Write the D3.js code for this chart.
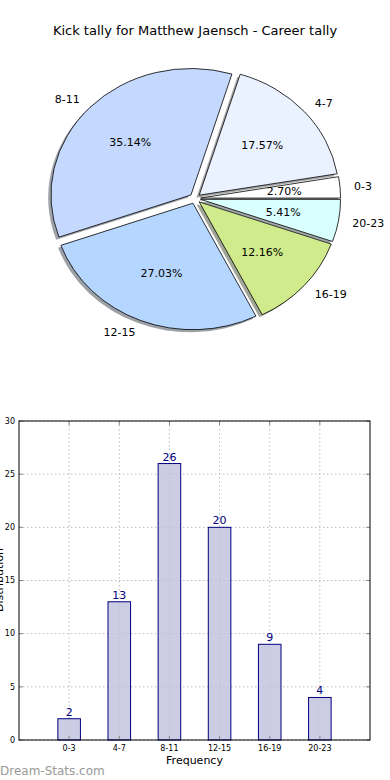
<!DOCTYPE html>
<html>
<head>
<meta charset="utf-8">
<script src="https://cdn.jsdelivr.net/npm/d3@7"></script>
<style>
  body { margin: 0; background: #fff; }
  svg { display: block; font-family: "DejaVu Sans", sans-serif; }
</style>
</head>
<body>
<div id="chart"></div>
<script>
// data
const categories = ["0-3", "4-7", "8-11", "12-15", "16-19", "20-23"];
const counts = [2, 13, 26, 20, 9, 4];
const sliceColors = ["#ffffff", "#eaf1ff", "#c5d9ff", "#b5d6ff", "#d0eb8b", "#d9ffff"];
const yTicks = [0, 5, 10, 15, 20, 25, 30];

const W = 390, H = 780;
const svg = d3.select("#chart").append("svg")
    .attr("width", W)
    .attr("height", H);

svg.append("text")
    .attr("x", 195)
    .attr("y", 35)
    .attr("text-anchor", "middle")
    .style("font-size", "13px")
    .attr("fill", "#000")
    .text("Kick tally for Matthew Jaensch - Career tally");

// ---- pie (matplotlib style: starts at 3 o'clock, counterclockwise, exploded)
const cx = 195, cy = 198.5, r = 140, sy = 126.5 / 140;
const explode = 0.04;

const pie = d3.pie().sort(null)
    .startAngle(Math.PI / 2)
    .endAngle(Math.PI / 2 - 2 * Math.PI);
const arcs = pie(counts);
const total = d3.sum(counts);
const arc = d3.arc().innerRadius(0).outerRadius(r);

const pieG = svg.append("g");

arcs.forEach((d, i) => {
    const mid = (d.startAngle + d.endAngle) / 2;
    const ux = Math.sin(mid), uy = -Math.cos(mid);
    const ox = explode * r * ux, oy = explode * r * uy;

    // shadow
    pieG.append("path")
        .attr("d", arc(d))
        .attr("transform", `translate(${cx - 0.02 * r},${cy + 0.02 * r * sy}) scale(1,${sy}) translate(${ox},${oy})`)
        .attr("fill", d3.color(sliceColors[i]).darker(3.2))
        .attr("opacity", 0.5);

    pieG.append("path")
        .attr("d", arc(d))
        .attr("transform", `translate(${cx},${cy}) scale(1,${sy}) translate(${ox},${oy})`)
        .attr("fill", sliceColors[i])
        .attr("stroke", "#000")
        .attr("stroke-width", 0.8)
        .attr("vector-effect", "non-scaling-stroke");
});

arcs.forEach((d, i) => {
    const mid = (d.startAngle + d.endAngle) / 2;
    const ux = Math.sin(mid), uy = -Math.cos(mid);
    const ox = cx + explode * r * ux, oy = cy + explode * r * uy * sy;
    const lx = ox + 1.1 * r * ux, ly = oy + 1.1 * r * uy * sy;
    svg.append("text")
        .attr("x", lx)
        .attr("y", ly)
        .attr("dy", "0.35em")
        .attr("text-anchor", ux > 0 ? "start" : "end")
        .style("font-size", "11px")
        .text(categories[i]);
    const px = ox + 0.6 * r * ux, py = oy + 0.6 * r * uy * sy;
    svg.append("text")
        .attr("x", px)
        .attr("y", py)
        .attr("dy", "0.35em")
        .attr("text-anchor", "middle")
        .style("font-size", "11px")
        .text((counts[i] / total * 100).toFixed(2) + "%");
});

// ---- bar chart
const bLeft = 19, bRight = 370, bTop = 421, bBottom = 740;
const x = d3.scaleLinear().domain([-1, categories.length]).range([bLeft, bRight]);
const y = d3.scaleLinear().domain([0, 30]).range([bBottom, bTop]);
const barW = x(0.45) - x(0);

const bars = svg.append("g");

// grid
bars.selectAll(".gy")
    .data(yTicks)
    .enter().append("line")
        .attr("x1", bLeft).attr("x2", bRight)
        .attr("y1", d => y(d)).attr("y2", d => y(d))
        .attr("stroke", "#bdbdbd")
        .attr("stroke-dasharray", "1.5,2.5");
bars.selectAll(".gx")
    .data(categories)
    .enter().append("line")
        .attr("x1", (d, i) => x(i)).attr("x2", (d, i) => x(i))
        .attr("y1", bTop).attr("y2", bBottom)
        .attr("stroke", "#bdbdbd")
        .attr("stroke-dasharray", "1.5,2.5");

bars.selectAll("rect.bar")
    .data(counts)
    .enter().append("rect")
        .attr("class", "bar")
        .attr("x", (d, i) => x(i) - barW / 2)
        .attr("y", d => y(d))
        .attr("width", barW)
        .attr("height", d => bBottom - y(d))
        .attr("fill", "rgba(191,191,221,0.8)")
        .attr("stroke", "#000080")
        .attr("stroke-width", 1);

bars.selectAll("text.val")
    .data(counts)
    .enter().append("text")
        .attr("x", (d, i) => x(i))
        .attr("y", d => y(d) - 3)
        .attr("text-anchor", "middle")
        .attr("fill", "#000080")
        .style("font-size", "11px")
        .text(d => d);

// inside ticks
yTicks.forEach(t => {
    bars.append("line").attr("x1", bLeft).attr("x2", bLeft + 4)
        .attr("y1", y(t)).attr("y2", y(t)).attr("stroke", "#888");
    bars.append("line").attr("x1", bRight - 4).attr("x2", bRight)
        .attr("y1", y(t)).attr("y2", y(t)).attr("stroke", "#888");
});
categories.forEach((c, i) => {
    bars.append("line").attr("x1", x(i)).attr("x2", x(i))
        .attr("y1", bBottom).attr("y2", bBottom - 4).attr("stroke", "#888");
    bars.append("line").attr("x1", x(i)).attr("x2", x(i))
        .attr("y1", bTop).attr("y2", bTop + 4).attr("stroke", "#888");
});

// frame
bars.append("rect")
    .attr("x", bLeft).attr("y", bTop)
    .attr("width", bRight - bLeft).attr("height", bBottom - bTop)
    .attr("fill", "none")
    .attr("stroke", "#000")
    .attr("stroke-width", 1);

bars.selectAll("text.yt")
    .data(yTicks)
    .enter().append("text")
        .attr("x", bLeft - 4)
        .attr("y", d => y(d))
        .attr("dy", "0.35em")
        .attr("text-anchor", "end")
        .style("font-size", "8px")
        .text(d => d);

bars.selectAll("text.xt")
    .data(categories)
    .enter().append("text")
        .attr("x", (d, i) => x(i))
        .attr("y", bBottom + 11)
        .attr("text-anchor", "middle")
        .style("font-size", "8px")
        .text(d => d);

svg.append("text")
    .attr("x", (bLeft + bRight) / 2)
    .attr("y", 764)
    .attr("text-anchor", "middle")
    .style("font-size", "11px")
    .text("Frequency");

svg.append("text")
    .attr("transform", "translate(3,580) rotate(-90)")
    .attr("text-anchor", "middle")
    .style("font-size", "11px")
    .text("Distribution");

svg.append("text")
    .attr("x", 0)
    .attr("y", 775)
    .attr("fill", "#999")
    .style("font-size", "12px")
    .text("Dream-Stats.com");
</script>
</body>
</html>
